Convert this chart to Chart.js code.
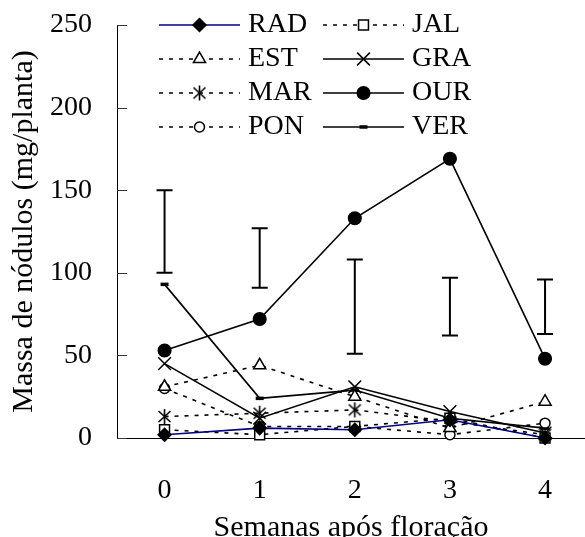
<!DOCTYPE html>
<html>
<head>
<meta charset="utf-8">
<script src="https://cdn.jsdelivr.net/npm/chart.js@4.4.1/dist/chart.umd.min.js"></script>
<style>
  html, body { margin: 0; padding: 0; background: #fff; }
  canvas { display: block; }
</style>
</head>
<body>
<canvas id="chart" width="585" height="537"></canvas>
<script>
const weeks = [0, 1, 2, 3, 4];
const yTicks = [0, 50, 100, 150, 200, 250];

const rad = [2, 6, 5, 11, 0];
const jal = [5, 2, 7, 12, 0];
const est = [31, 44, 25, 6, 22];
const gra = [45, 12, 31, 16, 3];
const mar = [13, 15, 17, 10, 2];
const our = [53, 72, 133, 169, 48];
const pon = [30, 7, 7, 2, 9];
const ver = [93, 24, 29, 12, 6];

// LSD bars drawn at each week
const errLow = [100, 91, 51, 62, 63];
const errHigh = [150, 127, 108, 97, 96];

const serif = "'Liberation Serif', 'Times New Roman', serif";
const dotted = [4, 6];

// asterisk marker (vertical bar + X)
const asterisk = document.createElement('canvas');
asterisk.width = 17;
asterisk.height = 17;
(function () {
    const c = asterisk.getContext('2d');
    c.strokeStyle = '#000';
    c.lineWidth = 1.6;
    c.beginPath();
    c.moveTo(8.5, 1); c.lineTo(8.5, 16);
    c.moveTo(2.5, 3); c.lineTo(14.5, 14);
    c.moveTo(2.5, 14); c.lineTo(14.5, 3);
    c.stroke();
})();

function series(label, values, style) {
    return Object.assign({
        label,
        data: values.map((v, i) => ({ x: weeks[i], y: v })),
        borderColor: '#000',
        borderWidth: 1.6,
        pointBorderColor: '#000',
        pointBorderWidth: 1.5,
        pointBackgroundColor: '#fff',
        pointRadius: 6,
        tension: 0,
        clip: false
    }, style);
}

const datasets = [
    series('RAD', rad, { borderColor: '#000080', pointStyle: 'rectRot', pointRadius: 6.5, pointBackgroundColor: '#000' }),
    series('JAL', jal, { borderDash: dotted, pointStyle: 'rect', pointRadius: 7 }),
    series('EST', est, { borderDash: dotted, pointStyle: 'triangle', pointRadius: 7 }),
    series('GRA', gra, { pointStyle: 'crossRot', pointRadius: 9 }),
    series('MAR', mar, { borderDash: dotted, pointStyle: asterisk }),
    series('OUR', our, { pointStyle: 'circle', pointRadius: 6.3, pointBackgroundColor: '#000' }),
    series('PON', pon, { borderDash: dotted, pointStyle: 'circle', pointRadius: 5 }),
    series('VER', ver, { pointStyle: 'line', pointRadius: 4, pointBorderWidth: 3.5 })
];

const errorBars = {
    id: 'errorBars',
    afterDatasetsDraw(chart) {
        const { ctx, scales: { x, y } } = chart;
        ctx.save();
        ctx.strokeStyle = '#000';
        ctx.lineWidth = 2;
        weeks.forEach((w, i) => {
            const px = x.getPixelForValue(w);
            const top = y.getPixelForValue(errHigh[i]);
            const bot = y.getPixelForValue(errLow[i]);
            ctx.beginPath();
            ctx.moveTo(px, top); ctx.lineTo(px, bot);
            ctx.moveTo(px - 8, top); ctx.lineTo(px + 8, top);
            ctx.moveTo(px - 8, bot); ctx.lineTo(px + 8, bot);
            ctx.stroke();
        });
        // inward ticks on the y axis
        ctx.strokeStyle = '#333';
        ctx.lineWidth = 1;
        yTicks.forEach(v => {
            const py = Math.round(y.getPixelForValue(v)) + 0.5;
            ctx.beginPath();
            ctx.moveTo(x.left, py); ctx.lineTo(x.left + 10, py);
            ctx.stroke();
        });
        ctx.restore();
    }
};

const legendBox = {
    id: 'legendBox',
    afterDraw(chart) {
        const ctx = chart.ctx;
        const colX = [159, 323];
        const rowY = [25, 59, 93, 127];
        const sampleLen = 81;
        ctx.save();
        chart.data.datasets.forEach((ds, i) => {
            const x0 = colX[i % 2];
            const yy = rowY[Math.floor(i / 2)];
            ctx.strokeStyle = ds.borderColor;
            ctx.lineWidth = ds.borderWidth;
            ctx.setLineDash(ds.borderDash || []);
            ctx.beginPath();
            ctx.moveTo(x0, yy); ctx.lineTo(x0 + sampleLen, yy);
            ctx.stroke();
            ctx.setLineDash([]);
            ctx.fillStyle = ds.pointBackgroundColor;
            ctx.strokeStyle = ds.pointBorderColor;
            ctx.lineWidth = ds.pointBorderWidth;
            Chart.helpers.drawPoint(ctx, {
                pointStyle: ds.pointStyle,
                radius: ds.pointRadius,
                rotation: 0,
                borderWidth: ds.pointBorderWidth
            }, x0 + sampleLen / 2, yy);
            ctx.fillStyle = '#000';
            ctx.font = '28px ' + serif;
            ctx.textBaseline = 'middle';
            ctx.textAlign = 'left';
            ctx.fillText(ds.label, x0 + 89, yy);
        });
        ctx.restore();
    }
};

new Chart(document.getElementById('chart').getContext('2d'), {
    type: 'line',
    data: { datasets },
    options: {
        responsive: false,
        animation: false,
        events: [],
        layout: { autoPadding: false, padding: { top: 25, right: 0, bottom: 0, left: 0 } },
        plugins: {
            legend: { display: false },
            tooltip: { enabled: false }
        },
        scales: {
            x: {
                type: 'linear',
                min: -0.5,
                max: 4.42,
                afterBuildTicks: s => { s.ticks = weeks.map(v => ({ value: v })); },
                afterFit: s => { s.height = 99; s.paddingLeft = 0; s.paddingRight = 0; },
                grid: { display: false, drawTicks: false },
                border: { display: true, color: '#000', width: 1 },
                ticks: { padding: 36, color: '#000', font: { family: serif, size: 28 } },
                title: {
                    display: true,
                    text: 'Semanas após floração',
                    color: '#000',
                    font: { family: serif, size: 30 },
                    padding: { top: 0, bottom: -9 }
                }
            },
            y: {
                min: 0,
                max: 250,
                afterBuildTicks: s => { s.ticks = yTicks.map(v => ({ value: v })); },
                afterFit: s => { s.width = 117; s.paddingTop = 0; s.paddingBottom = 0; },
                grid: { display: false, drawTicks: false },
                border: { display: true, color: '#000', width: 1 },
                ticks: { padding: 25, color: '#000', font: { family: serif, size: 28 } },
                title: {
                    display: true,
                    text: 'Massa de nódulos (mg/planta)',
                    color: '#000',
                    font: { family: serif, size: 30 },
                    padding: { top: 6, bottom: 0 }
                }
            }
        }
    },
    plugins: [errorBars, legendBox]
});
</script>
</body>
</html>
